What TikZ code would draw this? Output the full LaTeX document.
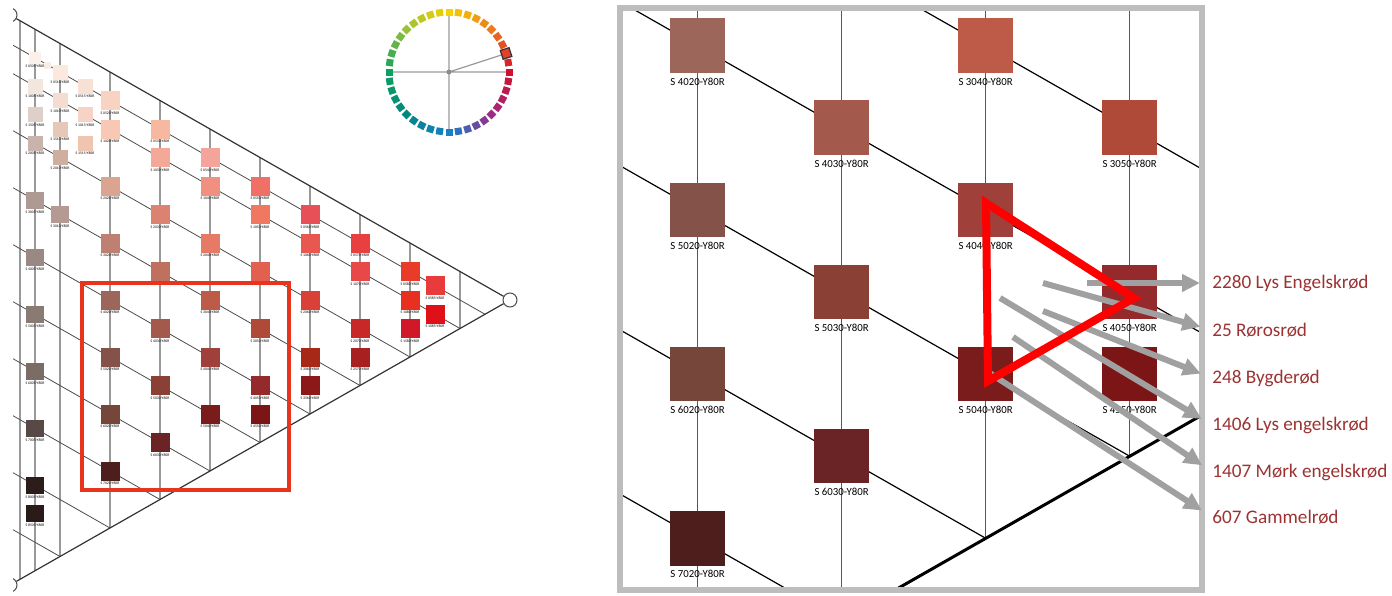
\documentclass[tikz,border=0pt]{standalone}
\usepackage{fontspec}
\setmainfont{Carlito}
\usetikzlibrary{arrows.meta,positioning}

\definecolor{NoteRed}{HTML}{9C3232}
\definecolor{ArrowGray}{HTML}{A0A0A0}
\definecolor{FrameGray}{HTML}{BDBDBD}
\definecolor{BoxRed}{HTML}{E8341C}
% NCS hue circle: Y, Y50R, R, R50B, B, B50G, G, G50Y
\definecolor{hue0}{HTML}{F5D200}
\definecolor{hue1}{HTML}{EE7A1E}
\definecolor{hue2}{HTML}{D2102E}
\definecolor{hue3}{HTML}{9C2A86}
\definecolor{hue4}{HTML}{1880C8}
\definecolor{hue5}{HTML}{00877F}
\definecolor{hue6}{HTML}{0EA060}
\definecolor{hue7}{HTML}{98C23A}

\tikzset{
    x=0.5pt,y=-0.5pt,
    declare function={nx(\bk,\ch)=10+5*\ch; ny(\bk,\ch)=15+5.7*\bk+2.85*\ch;},
    vline/.style={draw=black!40,line width=.6pt},
    dline/.style={draw=black!70,line width=.4pt},
    edge/.style={draw=black!80,line width=.6pt},
    corner/.style={circle,draw=black!70,fill=white,line width=.5pt,minimum size=7pt,inner sep=0pt},
    swatch/.style={rectangle,inner sep=0pt},
    swatchlabel/.style={inner sep=.4pt,font=\fontsize{1.875}{2}\selectfont},
    wheelsq/.style={rectangle,inner sep=0pt,minimum size=3.5pt},
    wheelline/.style={draw=black!40,line width=.6pt},
    pointer/.style={-{Triangle[length=9pt,width=8.5pt]},draw=ArrowGray,fill=ArrowGray,line width=3pt,shorten >=6pt},
    note/.style={anchor=west,inner sep=0pt,text=NoteRed,font=\fontsize{9.6}{11}\selectfont},
}

\newcommand{\NCSChart}{%
    % grid of the Y80R triangle
    \foreach \ch in {2,5,10,20,30,40,50,60,70,80,90}
        \draw[vline] ({nx(0,\ch)},{ny(0,\ch)}) -- ({nx(100-\ch,\ch)},{ny(100-\ch,\ch)});
    \foreach \bk in {5,10,20,30,40,50,60,70,80,90}
        \draw[dline] ({nx(\bk,0)},{ny(\bk,0)}) -- ({nx(\bk,100-\bk)},{ny(\bk,100-\bk)});
    \node[corner] (W) at ({nx(0,0)},{ny(0,0)}) {};
    \node[corner] (S) at ({nx(100,0)},{ny(100,0)}) {};
    \node[corner] (C) at ({nx(0,100)},{ny(0,100)}) {};
    \draw[edge] (W) -- (C) -- (S);
    % swatches
    \node[swatch,minimum size=3.5pt,fill={rgb,255:red,248;green,237;blue,230}] (tiny) at (47,65) {};
    \foreach \bk/\ch/\hex in {
        5/5/FBF0EA,10/5/F2E6DE,15/5/DDD0C8,20/5/C8B4AA,30/5/AE9A92,40/5/998884,
        50/5/8A7A74,60/5/7C6C66,70/5/574A46,80/5/2C1C1A,85/5/2A1A18,
        5/10/FBE8DE,10/10/F4DCD0,15/10/E6C8B8,20/10/CFAEA0,30/10/B49A92,
        5/15/F9E0D4,10/15/F7D2C6,15/15/EFC4B0,
        5/20/F9D3C2,10/20/F8C8B4,20/20/DAA491,30/20/BE8070,40/20/9C665A,
        50/20/85524A,60/20/77463A,70/20/4E1E1C,
        5/30/F7B8A0,10/30/F4A898,20/30/DC8270,30/30/C0705F,40/30/A35A4C,
        50/30/8A4034,60/30/6A2426,
        5/40/F4A49A,10/40/F09080,20/40/E67A66,30/40/BD5A48,40/40/A0403A,50/40/7A1C1C,
        5/50/F07068,10/50/F07860,20/50/E26050,30/50/B04A38,40/50/952A2C,45/50/7C1616,
        5/60/E85058,10/60/E85850,20/60/D84038,30/60/A82818,35/60/8C1818,
        5/70/E84040,10/70/E84848,20/70/C82828,25/70/A82020,
        5/80/E83C28,10/80/E83020,15/80/D01828,
        5/85/E83C3C,10/85/E01018}{
        \definecolor{swatchfill}{HTML}{\hex}
        \pgfmathsetmacro\sz{(\bk==5 && \ch==5) ? 6 : (\ch>=20 ? 9.5 : (\bk>=30 ? 8.7 : 7.5))}
        \node[swatch,minimum size=\sz pt,fill=swatchfill] (sw) at ({nx(\bk,\ch)},{ny(\bk,\ch)}) {};
        \node[swatchlabel,anchor=north] at (sw.south)
            {S \ifnum\bk<10 0\fi\bk\ifnum\ch<10 0\fi\ch-Y80R};
    }
}

\begin{document}
\begin{tikzpicture}
    \useasboundingbox (0,0) rectangle (1392,595);

    % Overview triangle
    \begin{scope}
        \clip (13,0) rectangle (600,595);
        \NCSChart
    \end{scope}
    \draw[BoxRed,line width=2pt] (82,283) rectangle (289,490);

    % Hue circle
    \begin{scope}[shift={(449,72)}]
        \draw[wheelline] (90:57) -- (-90:57) (0:57) -- (180:57) (0,0) -- (-18:55);
        \foreach \i in {0,...,39}{
            \pgfmathtruncatemacro\seg{floor(\i/5)}
            \pgfmathtruncatemacro\nxt{mod(\seg+1,8)}
            \pgfmathtruncatemacro\pct{100-20*mod(\i,5)}
            \colorlet{huefill}{hue\seg!\pct!hue\nxt}
            \node[wheelsq,fill=huefill,rotate=90-9*\i] (h\i) at ({9*\i-90}:60) {};
        }
        \node[wheelsq,minimum size=4.6pt,draw=black!80,line width=.6pt,fill={rgb,255:red,224;green,64;blue,44},rotate=18] (pick) at (-18:60) {};
        \fill[black!45] (0,0) circle (2.5);
    \end{scope}

    % Zoomed part
    \begin{scope}
        \clip (623,11) rectangle (1199,587);
        \begin{scope}[shift={(380.7,-818.3)},scale=2.88,transform shape,
            vline/.style={draw=black!65,line width=.7pt},
            dline/.style={draw=black,line width=.6pt},
            edge/.style={draw=black,line width=1.5pt}]
            \NCSChart
        \end{scope}
    \end{scope}
    \draw[FrameGray,line width=3pt] (620,8) rectangle (1202,590);

    % Named colours
    \node[note] (n2280) at (1212,283) {2280 Lys Engelskrød};
    \node[note] (n25)   at (1212,330) {25 Rørosrød};
    \node[note] (n248)  at (1212,378) {248 Bygderød};
    \node[note] (n1406) at (1212,425) {1406 Lys engelskrød};
    \node[note] (n1407) at (1212,472) {1407 Mørk engelskrød};
    \node[note] (n607)  at (1212,517) {607 Gammelrød};
    \coordinate (a2280) at (1087,283);
    \coordinate (a25)   at (1043,283);
    \coordinate (a248)  at (1043,311);
    \coordinate (a1406) at (1000,298);
    \coordinate (a1407) at (1013,337);
    \coordinate (a607)  at (988,372);
    \foreach \n in {2280,25,248,1406,1407,607}
        \draw[pointer] (a\n) -- (n\n.west);

    \draw[red,line width=4pt,line join=miter] (986,203) -- (1134,298) -- (988,381) -- cycle;
\end{tikzpicture}
\end{document}
